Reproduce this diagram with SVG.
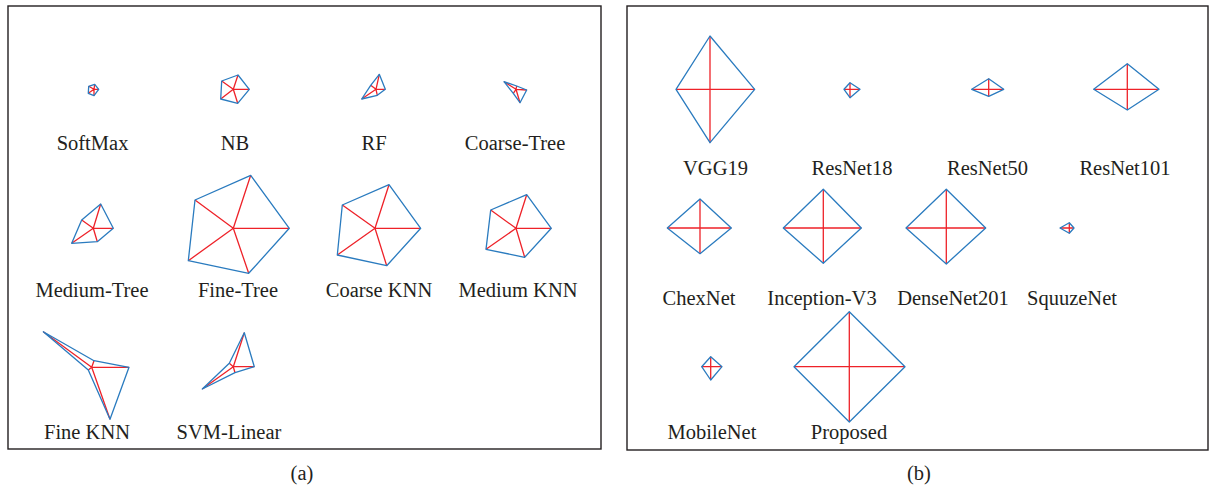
<svg xmlns="http://www.w3.org/2000/svg" width="1210" height="488" viewBox="0 0 1210 488">
<style>
.frame{fill:none;stroke:#231f20;stroke-width:1.4}
.out{fill:none;stroke:#2a7bbf;stroke-width:1.3;stroke-linejoin:round}
.sp{fill:none;stroke:#ee2229;stroke-width:1.3}
.lbl{font-family:"Liberation Serif",serif;font-size:20.5px;fill:#231f20;text-anchor:middle}
</style>
<rect width="1210" height="488" fill="#fff"/>
<g id="panel-a">
<rect class="frame" x="8" y="6" width="593" height="443"/>
<text class="lbl" x="302" y="480">(a)</text>
</g>
<g id="panel-b">
<rect class="frame" x="627" y="6" width="581" height="444"/>
<text class="lbl" x="919" y="480">(b)</text>
</g>
<g id="connectors"></g>
<!-- panel a -->
<g id="softmax">
<path class="sp" d="M94,89.3L98.7,89.3M94,89.3L94.7,84.3M94,89.3L88.7,86.3M94,89.3L88.3,93.3M94,89.3L94,95.7"/>
<polygon class="out" points="98.7,89.3 94.7,84.3 88.7,86.3 88.3,93.3 94,95.7"/>
<text class="lbl" x="92.5" y="150">SoftMax</text>
</g>
<g id="nb">
<path class="sp" d="M233.3,89.3L249.3,89.3M233.3,89.3L238,75M233.3,89.3L221.7,81M233.3,89.3L220.7,99M233.3,89.3L237.7,103.3"/>
<polygon class="out" points="249.3,89.3 238,75 221.7,81 220.7,99 237.7,103.3"/>
<text class="lbl" x="235" y="150">NB</text>
</g>
<g id="rf">
<path class="sp" d="M376,89.3L385.3,89.3M376,89.3L379.3,74.3M376,89.3L370.7,85.3M376,89.3L361.7,99M376,89.3L377.3,95.3"/>
<polygon class="out" points="385.3,89.3 379.3,74.3 370.7,85.3 361.7,99 377.3,95.3"/>
<text class="lbl" x="374" y="150">RF</text>
</g>
<g id="coarse-tree">
<path class="sp" d="M516,89.3L526.7,90M516,89.3L516.7,86M516,89.3L504,81.7M516,89.3L513.3,93.3M516,89.3L520,102.7"/>
<polygon class="out" points="526.7,90 516.7,86 504,81.7 513.3,93.3 520,102.7"/>
<text class="lbl" x="515" y="150">Coarse-Tree</text>
</g>
<g id="medium-tree">
<path class="sp" d="M93.3,228.3L113.3,228.3M93.3,228.3L100.7,204M93.3,228.3L81.7,220M93.3,228.3L71.7,243.3M93.3,228.3L97.3,241.7"/>
<polygon class="out" points="113.3,228.3 100.7,204 81.7,220 71.7,243.3 97.3,241.7"/>
<text class="lbl" x="92" y="297">Medium-Tree</text>
</g>
<g id="fine-tree">
<path class="sp" d="M233.3,228.3L289.3,228.3M233.3,228.3L250.7,175.3M233.3,228.3L195,200M233.3,228.3L188.3,260.7M233.3,228.3L248.7,273.3"/>
<polygon class="out" points="289.3,228.3 250.7,175.3 195,200 188.3,260.7 248.7,273.3"/>
<text class="lbl" x="238" y="297">Fine-Tree</text>
</g>
<g id="coarse-knn">
<path class="sp" d="M375,228.3L420.7,228.3M375,228.3L389,184.7M375,228.3L342.3,205M375,228.3L337.3,255M375,228.3L386.7,265.7"/>
<polygon class="out" points="420.7,228.3 389,184.7 342.3,205 337.3,255 386.7,265.7"/>
<text class="lbl" x="379" y="297">Coarse KNN</text>
</g>
<g id="medium-knn">
<path class="sp" d="M516,228.3L551.3,228.3M516,228.3L526.7,194.7M516,228.3L490.7,210M516,228.3L486,249.3M516,228.3L524.7,257.3"/>
<polygon class="out" points="551.3,228.3 526.7,194.7 490.7,210 486,249.3 524.7,257.3"/>
<text class="lbl" x="518" y="297">Medium KNN</text>
</g>
<g id="fine-knn">
<path class="sp" d="M91.7,367.3L129,367.3M91.7,367.3L94,360.7M91.7,367.3L43.3,331.7M91.7,367.3L88.3,370M91.7,367.3L110,419.3"/>
<polygon class="out" points="129,367.3 94,360.7 43.3,331.7 88.3,370 110,419.3"/>
<text class="lbl" x="87" y="439">Fine KNN</text>
</g>
<g id="svm-linear">
<path class="sp" d="M233.3,366.7L254.3,366.7M233.3,366.7L244.3,332.7M233.3,366.7L229.3,363.3M233.3,366.7L202.3,389M233.3,366.7L235,372.7"/>
<polygon class="out" points="254.3,366.7 244.3,332.7 229.3,363.3 202.3,389 235,372.7"/>
<text class="lbl" x="229" y="439">SVM-Linear</text>
</g>
<!-- panel b -->
<g id="vgg19">
<path class="sp" d="M710,36V142.7M676,89.3H754.7"/>
<polygon class="out" points="710,36 754.7,89.3 710,142.7 676,89.3"/>
<text class="lbl" x="715.5" y="175">VGG19</text>
</g>
<g id="resnet18">
<path class="sp" d="M850,82.7V97.7M844,89.3H860"/>
<polygon class="out" points="850,82.7 860,89.3 850,97.7 844,89.3"/>
<text class="lbl" x="852" y="175">ResNet18</text>
</g>
<g id="resnet50">
<path class="sp" d="M988.7,78.7V96.3M971.7,89.3H1003.7"/>
<polygon class="out" points="988.7,78.7 1003.7,89.3 988.7,96.3 971.7,89.3"/>
<text class="lbl" x="987.5" y="175">ResNet50</text>
</g>
<g id="resnet101">
<path class="sp" d="M1127.3,63.7V110M1093.7,89.3H1159"/>
<polygon class="out" points="1127.3,63.7 1159,89.3 1127.3,110 1093.7,89.3"/>
<text class="lbl" x="1125" y="175">ResNet101</text>
</g>
<g id="chexnet">
<path class="sp" d="M700,199V253.7M667.3,228H731.3"/>
<polygon class="out" points="700,199 731.3,228 700,253.7 667.3,228"/>
<text class="lbl" x="699" y="305">ChexNet</text>
</g>
<g id="inception-v3">
<path class="sp" d="M823.3,189.3V263.3M783.3,228H861.3"/>
<polygon class="out" points="823.3,189.3 861.3,228 823.3,263.3 783.3,228"/>
<text class="lbl" x="822" y="305">Inception-V3</text>
</g>
<g id="densenet201">
<path class="sp" d="M946.3,189.3V264M906,228H985.7"/>
<polygon class="out" points="946.3,189.3 985.7,228 946.3,264 906,228"/>
<text class="lbl" x="953" y="305">DenseNet201</text>
</g>
<g id="squuzenet">
<path class="sp" d="M1069.3,222.7V233.3M1060,228H1074"/>
<polygon class="out" points="1069.3,222.7 1074,228 1069.3,233.3 1060,228"/>
<text class="lbl" x="1072" y="305">SquuzeNet</text>
</g>
<g id="mobilenet">
<path class="sp" d="M710.7,356.7V380M701.7,366.7H722"/>
<polygon class="out" points="710.7,356.7 722,366.7 710.7,380 701.7,366.7"/>
<text class="lbl" x="712" y="439">MobileNet</text>
</g>
<g id="proposed">
<path class="sp" d="M849.3,311.7V422M794,366.7H905"/>
<polygon class="out" points="849.3,311.7 905,366.7 849.3,422 794,366.7"/>
<text class="lbl" x="849" y="439">Proposed</text>
</g>
</svg>
